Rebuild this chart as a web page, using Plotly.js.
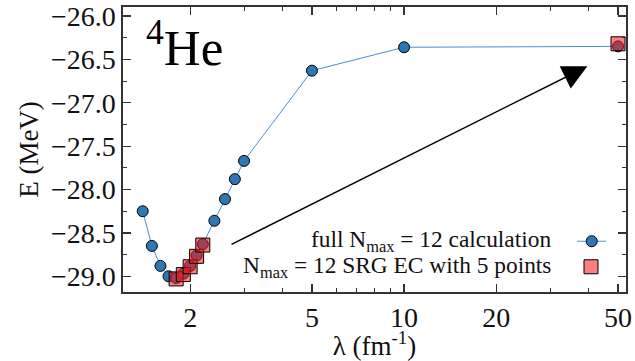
<!DOCTYPE html>
<html><head><meta charset="utf-8">
<script src="https://cdn.plot.ly/plotly-3.0.1.min.js"></script>
<style>html,body{margin:0;padding:0;background:#fff}</style>
</head><body><div id="chart" style="width:635px;height:361px"></div>
<script>
// data
const lambdaFull = [1.4, 1.5, 1.6, 1.7, 1.8, 1.9, 2.0, 2.1, 2.2, 2.4, 2.6, 2.8, 3.0, 5, 10, 50];
const energyFull = [-28.25, -28.65, -28.88, -29.00, -29.02, -28.97, -28.88, -28.76, -28.63, -28.36, -28.11, -27.88, -27.67, -26.63, -26.36, -26.35];
const lambdaEC = [1.8, 1.9, 2.0, 2.1, 2.2, 50];
const energyEC = [-29.03, -28.98, -28.89, -28.77, -28.64, -26.32];
const xTickVals = [2, 5, 10, 20, 50];
const xTickText = ['2', '5', '10', '20', '50'];
const yTickVals = [-26.0, -26.5, -27.0, -27.5, -28.0, -28.5, -29.0];
const yTickText = ['\u221226.0', '\u221226.5', '\u221227.0', '\u221227.5', '\u221228.0', '\u221228.5', '\u221229.0'];
const seriesNames = ['full N<sub>max</sub> = 12 calculation', 'N<sub>max</sub> = 12 SRG EC with 5 points'];
const arrowFrom = [2.70, -28.64];
const arrowTo = [39.7, -26.58];

const FONT = 'Liberation Serif';
const BLUE = '#2f77b4';
const LINEBLUE = '#4a8fd4';
const RED = 'rgba(255,20,20,0.55)';
const AX = '#333333';

const traces = [
  {x: lambdaFull, y: energyFull, type: 'scatter', mode: 'lines+markers', name: seriesNames[0],
   line: {color: LINEBLUE, width: 1},
   marker: {color: BLUE, size: 11, line: {color: '#000', width: 1}}},
  {x: lambdaEC, y: energyEC, type: 'scatter', mode: 'markers', name: seriesNames[1],
   marker: {symbol: 'square', color: RED, size: 14, line: {color: '#000', width: 1}}}
];

const commonAxis = {
  showline: true, linecolor: AX, linewidth: 1.6, mirror: 'allticks',
  ticks: 'inside', ticklen: 8, tickwidth: 1.2, tickcolor: AX,
  showgrid: false, zeroline: false,
  tickfont: {family: FONT, size: 28, color: '#111'}
};

const px = v => (v - 123) / 503;
const py = v => (291.7 - v) / 284.7;

const layout = {
  width: 635, height: 361,
  margin: {l: 123, r: 9, t: 7, b: 69.3},
  paper_bgcolor: '#fff', plot_bgcolor: '#fff',
  font: {family: FONT},
  showlegend: false,
  xaxis: Object.assign({}, commonAxis, {
    type: 'log', range: [0.0817, 1.725],
    tickmode: 'array', tickvals: xTickVals, ticktext: xTickText,
    minor: {tickmode: 'array', tickvals: [3, 4, 6, 7, 8, 9, 30, 40], ticks: 'inside', ticklen: 4, tickcolor: AX, tickwidth: 1},
    title: {text: '\u03bb (fm<sup>-1</sup>)', font: {family: FONT, size: 27, color: '#111'}, standoff: 0}
  }),
  yaxis: Object.assign({}, commonAxis, {
    range: [-29.181, -25.896],
    tickmode: 'array', tickvals: yTickVals, ticktext: yTickText,
    minor: {dtick: 0.25, ticks: 'inside', ticklen: 4, tickcolor: AX, tickwidth: 1},
    title: {text: 'E (MeV)', font: {family: FONT, size: 27, color: '#111'}, standoff: 4}
  }),
  annotations: [
    {xref: 'x', yref: 'y', axref: 'x', ayref: 'y',
     x: Math.log10(arrowTo[0]), y: arrowTo[1], ax: Math.log10(arrowFrom[0]), ay: arrowFrom[1],
     text: '', showarrow: true, arrowhead: 2, arrowsize: 3.3, arrowwidth: 1.5, arrowcolor: '#000', standoff: 0},
    {xref: 'paper', yref: 'paper', x: px(144), y: py(44), xanchor: 'left', yanchor: 'middle',
     text: '<sup>4</sup>He', showarrow: false, font: {family: FONT, size: 51, color: '#000'}},
    {xref: 'paper', yref: 'paper', x: px(553), y: py(241), xanchor: 'right', yanchor: 'middle',
     text: seriesNames[0], showarrow: false, font: {family: FONT, size: 23.4, color: '#111'}},
    {xref: 'paper', yref: 'paper', x: px(553), y: py(266.5), xanchor: 'right', yanchor: 'middle',
     text: seriesNames[1], showarrow: false, font: {family: FONT, size: 23.4, color: '#111'}}
  ],
  shapes: [
    {type: 'line', xref: 'paper', yref: 'paper', x0: px(577), x1: px(606), y0: py(241), y1: py(241),
     line: {color: LINEBLUE, width: 1}},
    {type: 'circle', xref: 'paper', yref: 'paper', xsizemode: 'pixel', ysizemode: 'pixel',
     xanchor: px(591.7), yanchor: py(241), x0: -5.5, x1: 5.5, y0: -5.5, y1: 5.5,
     fillcolor: BLUE, line: {color: '#000', width: 1}},
    {type: 'rect', xref: 'paper', yref: 'paper', xsizemode: 'pixel', ysizemode: 'pixel',
     xanchor: px(591), yanchor: py(266.5), x0: -7, x1: 7, y0: -7, y1: 7,
     fillcolor: RED, line: {color: '#000', width: 1}}
  ]
};

Plotly.newPlot('chart', traces, layout, {staticPlot: true, displayModeBar: false});
</script></body></html>
